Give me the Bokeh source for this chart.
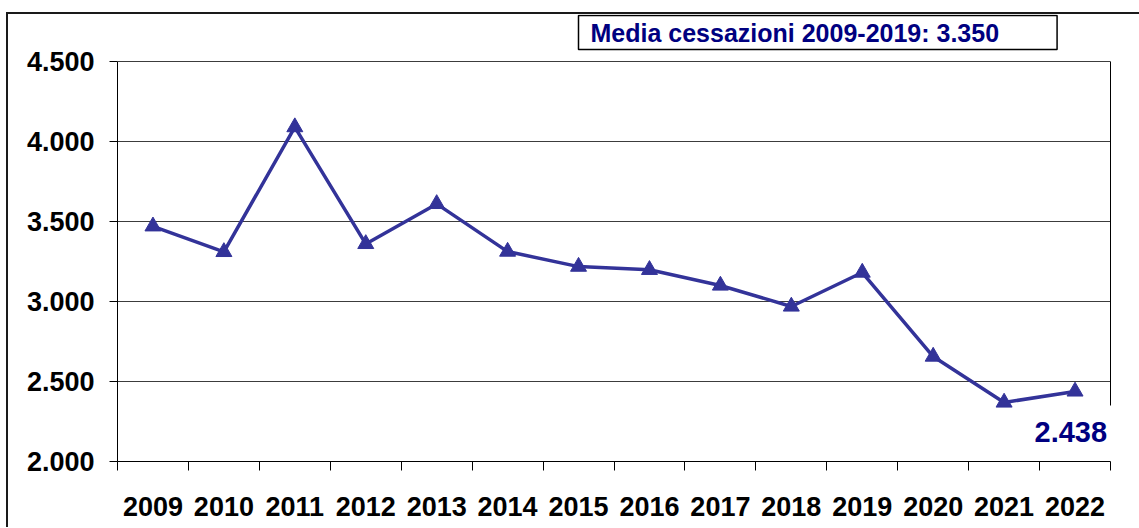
from bokeh.plotting import figure
from bokeh.models import Range1d, FixedTicker, Label, LinearAxis
from bokeh.embed import file_html
from bokeh.resources import INLINE

# ---- data ----
years = ["2009", "2010", "2011", "2012", "2013", "2014", "2015",
         "2016", "2017", "2018", "2019", "2020", "2021", "2022"]
cessazioni = [3470, 3310, 4090, 3360, 3610, 3312, 3218, 3198,
              3100, 2969, 3181, 2656, 2369, 2438]
y_ticks = [2000, 2500, 3000, 3500, 4000, 4500]
y_tick_labels = ["2.000", "2.500", "3.000", "3.500", "4.000", "4.500"]
media_text = "Media cessazioni 2009-2019: 3.350"

FONT = "Liberation Sans"
LINE = "#333399"
NAVY = "#000080"

n = len(years)
xs = [i + 0.5 for i in range(n)]

# layout (pixels)
PLOT_H = 400          # height of the 2.000-4.500 band
TOP_PAD = 47          # space above 4.500 kept inside the frame (for the box)
LABEL_BOX_H = 56      # height of the white box behind the last value
y_lo, y_hi = y_ticks[0], y_ticks[-1]
y_top = y_hi + (y_hi - y_lo) * TOP_PAD / PLOT_H

p = figure(frame_width=993, frame_height=PLOT_H + TOP_PAD,
           min_border_left=109, min_border_right=29,
           min_border_top=0, min_border_bottom=66,
           x_range=Range1d(0, n), y_range=Range1d(y_lo, y_top),
           output_backend="svg", toolbar_location=None,
           background_fill_color="white", border_fill_color="white")

p.styles = {"margin-top": "12px", "margin-left": "6px",
            "border-top": "2px solid #1a1a1a", "border-left": "2px solid #1a1a1a"}

p.outline_line_color = None

# grid
p.xgrid.visible = False
p.ygrid.grid_line_color = "#3c3c3c"
p.ygrid.grid_line_width = 1

# y axis
p.yaxis.ticker = FixedTicker(ticks=y_ticks)
p.yaxis.bounds = (y_lo, y_hi)
p.yaxis.major_label_overrides = {t: l for t, l in zip(y_ticks, y_tick_labels)}
p.yaxis.axis_line_color = "black"
p.yaxis.major_tick_line_color = "black"
p.yaxis.major_tick_out = 8
p.yaxis.major_tick_in = 0
p.yaxis.minor_tick_line_color = None
p.yaxis.major_label_standoff = 15
p.yaxis.major_label_text_font = FONT
p.yaxis.major_label_text_font_style = "bold"
p.yaxis.major_label_text_font_size = "27px"
p.yaxis.major_label_text_color = "black"

# right border of the plot area (hidden behind the value box at the bottom)
right_lo = y_lo + (y_hi - y_lo) * LABEL_BOX_H / PLOT_H
right = LinearAxis(ticker=FixedTicker(ticks=[]), bounds=(right_lo, y_hi),
                   axis_line_color="black", major_tick_line_color=None,
                   minor_tick_line_color=None, major_label_text_color=None)
p.add_layout(right, "right")

# x axis
p.xaxis.ticker = FixedTicker(ticks=xs, minor_ticks=list(range(n + 1)))
p.xaxis.major_label_overrides = {x: y for x, y in zip(xs, years)}
p.xaxis.axis_line_color = "black"
p.xaxis.major_tick_line_color = None
p.xaxis.major_tick_out = 0
p.xaxis.major_tick_in = 0
p.xaxis.minor_tick_line_color = "black"
p.xaxis.minor_tick_out = 9
p.xaxis.minor_tick_in = 0
p.xaxis.major_label_standoff = 26
p.xaxis.major_label_text_font = FONT
p.xaxis.major_label_text_font_style = "bold"
p.xaxis.major_label_text_font_size = "27px"
p.xaxis.major_label_text_color = "black"

# series
p.line(xs, cessazioni, line_color=LINE, line_width=3.5)
p.scatter(xs, cessazioni, marker="triangle", size=16, color=LINE)

# average box
media = Label(x=461, y=PLOT_H + TOP_PAD - 1, x_units="screen", y_units="screen",
              text=media_text, text_font=FONT, text_font_style="bold",
              text_font_size="25px", text_color=NAVY,
              text_align="left", text_baseline="top",
              background_fill_color="white",
              border_line_color="black", border_line_width=1.5,
              padding=dict(left=12, right=58, top=3, bottom=3))
p.add_layout(media)

# value label of the last year
last_label = f"{cessazioni[-1]:,}".replace(",", ".")
last = Label(x=911, y=28, x_units="screen", y_units="screen",
             text=last_label, text_font=FONT, text_font_style="bold",
             text_font_size="29px", text_color=NAVY,
             text_align="left", text_baseline="middle",
             background_fill_color="white",
             padding=dict(left=6, right=8, top=12, bottom=16))
p.add_layout(last)

open("out.html", "w").write(file_html(p, INLINE))
